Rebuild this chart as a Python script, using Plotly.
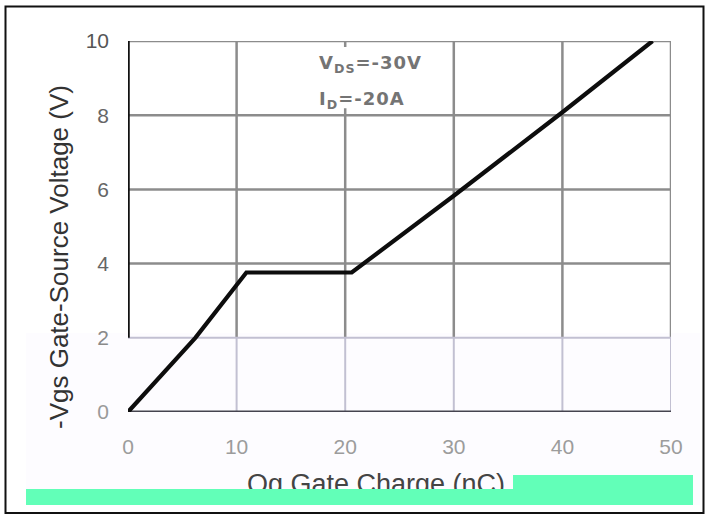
import plotly.graph_objects as go

# Gate charge characteristic
qg_nc = [0, 6.2, 10.9, 20.6, 30, 40, 48.3]
vgs_v = [0, 2.0, 3.76, 3.76, 5.83, 8.08, 10.0]

x_ticks = [0, 10, 20, 30, 40, 50]
y_ticks = [0, 2, 4, 6, 8, 10]
y_tick_colors = ["#9a9a9a", "#8a8a8a", "#666666", "#666666", "#666666", "#555555"]

W, H = 710, 518
L, R, T, B = 128, 39, 41, 106
PW, PH = W - L - R, H - T - B


def px_x(px):
    return (px - L) / PW


def px_y(py):
    return (H - B - py) / PH


GRID_TOP = "#8c8c8c"
GRID_LOW = "#c2c0d2"
SPLIT = 2  # grid colour changes below this voltage
TEAL = "#62ffb8"

shapes = []
# tinted lower band
shapes.append(dict(type="rect", xref="paper", yref="paper", layer="below",
                   x0=px_x(26), x1=px_x(700), y0=px_y(333), y1=px_y(505),
                   fillcolor="#fdfcff", line_width=0))

# vertical grid lines
for xv in x_ticks[1:]:
    shapes.append(dict(type="line", xref="x", yref="y", layer="below",
                       x0=xv, x1=xv, y0=SPLIT, y1=y_ticks[-1],
                       line=dict(color=GRID_TOP, width=2.5)))
    shapes.append(dict(type="line", xref="x", yref="y", layer="below",
                       x0=xv, x1=xv, y0=y_ticks[0], y1=SPLIT,
                       line=dict(color=GRID_LOW, width=2)))
# horizontal grid lines
for yv in y_ticks[1:]:
    col = GRID_TOP if yv > SPLIT else GRID_LOW
    wid = 2.5 if yv > SPLIT else 2
    shapes.append(dict(type="line", xref="x", yref="y", layer="below",
                       x0=x_ticks[0], x1=x_ticks[-1], y0=yv, y1=yv,
                       line=dict(color=col, width=wid)))

# white patch behind the test-condition note
shapes.append(dict(type="rect", xref="x", yref="y", layer="below",
                   x0=19, x1=21, y0=8.19, y1=9.84,
                   fillcolor="white", line_width=0))

# axis lines
shapes.append(dict(type="line", xref="x", yref="y", layer="below",
                   x0=0, x1=0, y0=SPLIT, y1=y_ticks[-1],
                   line=dict(color="#111111", width=3.5)))
shapes.append(dict(type="line", xref="x", yref="y", layer="below",
                   x0=x_ticks[0], x1=x_ticks[-1], y0=0, y1=0,
                   line=dict(color="#45444f", width=3)))

# outer frame
shapes.append(dict(type="rect", xref="paper", yref="paper", layer="above",
                   x0=px_x(5.5), x1=px_x(703.5), y0=px_y(513), y1=px_y(6.5),
                   fillcolor="rgba(0,0,0,0)", line=dict(color="#111111", width=2)))

fig = go.Figure()
fig.add_trace(go.Scatter(x=qg_nc, y=vgs_v, mode="lines",
                         line=dict(color="#0d0d0d", width=4.2),
                         hoverinfo="skip", cliponaxis=False))

NOTE_FONT = dict(family="DejaVu Sans", size=18, color="#747474")
SPACED = "<span style='letter-spacing:1px;font-weight:bold'>{}</span>"


def band(x0, x1, y0, y1):
    # solid strip drawn over the axis title
    return dict(text=" ", xref="paper", yref="paper", x=px_x(x0), y=px_y(y0),
                xanchor="left", yanchor="top", showarrow=False,
                width=x1 - x0, height=y1 - y0, bgcolor=TEAL,
                borderpad=0, borderwidth=0, font=dict(size=4))


annotations = [
    dict(text=SPACED.format("V<sub>DS</sub>=-30V"), xref="x", yref="y",
         x=17.4, y=9.38, xanchor="left", yanchor="middle", showarrow=False,
         font=NOTE_FONT),
    dict(text=SPACED.format("I<sub>D</sub>=-20A"), xref="x", yref="y",
         x=17.4, y=8.40, xanchor="left", yanchor="middle", showarrow=False,
         font=NOTE_FONT),
    dict(text="-Vgs Gate-Source Voltage (V)", xref="paper", yref="paper",
         x=px_x(59), y=px_y(257), xanchor="center", yanchor="middle",
         textangle=-90, showarrow=False,
         font=dict(family="Liberation Sans", size=26, color="#333333")),
    dict(text="Qg Gate Charge (nC)", xref="paper", yref="paper",
         x=px_x(245), y=px_y(501), xanchor="left", yanchor="bottom",
         showarrow=False,
         font=dict(family="Liberation Sans", size=27, color="#444444")),
    band(26, 513, 489, 505),
    band(513, 693, 475, 505),
]

fig.update_layout(
    width=W, height=H,
    margin=dict(l=L, r=R, t=T, b=B, pad=0),
    paper_bgcolor="white", plot_bgcolor="rgba(0,0,0,0)",
    showlegend=False,
    shapes=shapes,
    annotations=annotations,
    xaxis=dict(range=[x_ticks[0], x_ticks[-1]], tickvals=x_ticks,
               ticktext=[str(v) for v in x_ticks],
               showgrid=False, zeroline=False, showline=False, ticks="",
               ticklabelstandoff=20,
               tickfont=dict(family="Liberation Sans", size=21, color="#9c9c9c")),
    yaxis=dict(range=[y_ticks[0], y_ticks[-1]], tickvals=y_ticks,
               ticktext=[f"<span style='color:{c}'>{v}</span>"
                         for v, c in zip(y_ticks, y_tick_colors)],
               showgrid=False, zeroline=False, showline=False, ticks="",
               ticklabelstandoff=18,
               tickfont=dict(family="Liberation Sans", size=21, color="#666666")),
)

fig.write_html("out.html")
